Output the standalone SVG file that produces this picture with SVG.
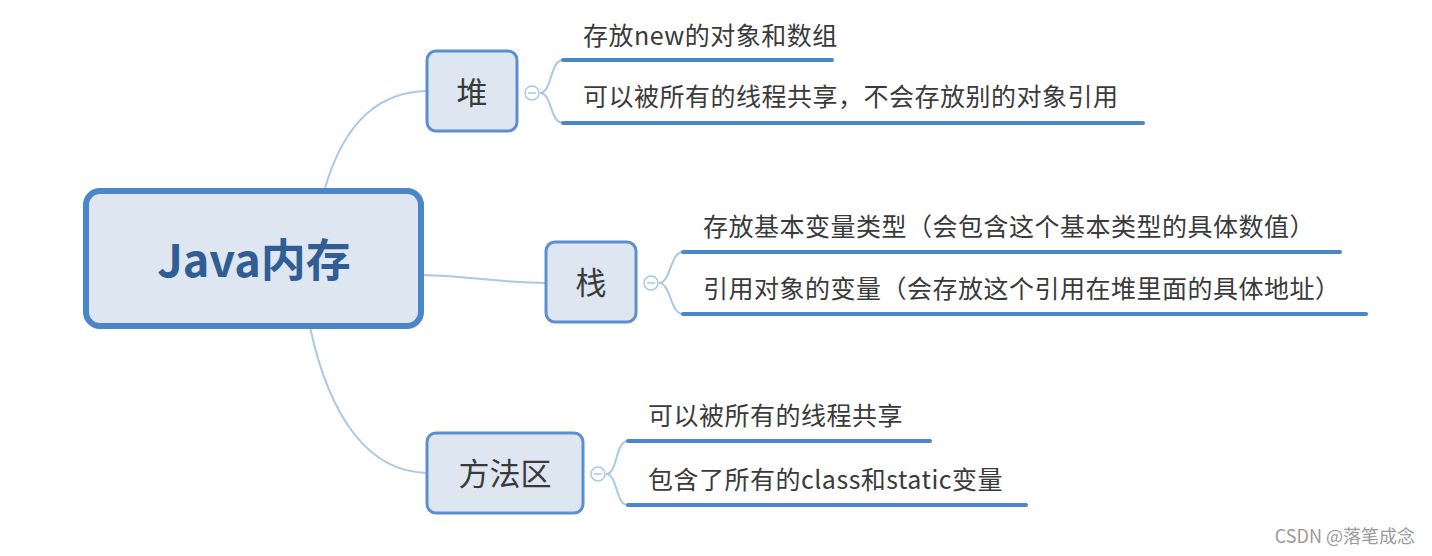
<svg xmlns="http://www.w3.org/2000/svg" width="1432" height="556" viewBox="0 0 1432 556">
<style>
.cn{font-family:"Noto Sans CJK SC","Noto Sans",sans-serif;}
.leaf{font-size:25px;fill:#3a3a3a;letter-spacing:0.5px;}
.sub{fill:#dde6f1;stroke:#5b8fd0;stroke-width:3;}
.subt{font-size:31px;fill:#3a3a3a;text-anchor:middle;}
.conn{fill:none;stroke:#a9c7e6;stroke-width:2;}
.ul{stroke:#4a86c8;stroke-width:4;stroke-linecap:round;}
.br{fill:none;stroke:#a9c7e6;stroke-width:2;}
.col{fill:#fff;stroke:#a9c7e6;stroke-width:1.5;}
</style>
<rect width="1432" height="556" fill="#ffffff"/>
<g id="connectors">
<path class="conn" d="M325,188 C345,120 380,92 427,91"/>
<path class="conn" d="M422,275 C470,276 500,283 546,283"/>
<path class="conn" d="M310,327 C330,420 370,472 427,473"/>
<path class="br" d="M540,93 C552,93 550,60 563,60"/>
<path class="br" d="M540,93 C552,93 550,123 563,123"/>
<path class="br" d="M659,283 C671,283 670,252 683,252"/>
<path class="br" d="M659,283 C671,283 670,314 683,314"/>
<path class="br" d="M606,474 C618,474 615,441 628,441"/>
<path class="br" d="M606,474 C618,474 615,505 628,505"/>
</g>
<g id="root">
<rect x="86" y="191" width="335" height="135" rx="14" fill="#dde6f1" stroke="#4a86c8" stroke-width="6"/>
<text class="cn" x="254" y="277" font-size="45" font-weight="bold" fill="#2f5d94" text-anchor="middle">Java内存</text>
</g>
<g id="heap">
<rect class="sub" x="427" y="51" width="90" height="80" rx="9"/>
<text class="cn subt" x="472" y="104">堆</text>
<circle class="col" cx="532" cy="93" r="7"/>
<line x1="528" y1="93" x2="536" y2="93" stroke="#a9c7e6" stroke-width="1.5"/>
</g>
<g id="heap-1">
<text class="cn leaf" x="583" y="45">存放new的对象和数组</text>
<line class="ul" x1="563" y1="60" x2="832" y2="60"/>
</g>
<g id="heap-2">
<text class="cn leaf" x="583" y="106">可以被所有的线程共享，不会存放别的对象引用</text>
<line class="ul" x1="563" y1="123" x2="1143" y2="123"/>
</g>
<g id="stack">
<rect class="sub" x="546" y="242" width="90" height="80" rx="9"/>
<text class="cn subt" x="591" y="294">栈</text>
<circle class="col" cx="651" cy="283" r="7"/>
<line x1="647" y1="283" x2="655" y2="283" stroke="#a9c7e6" stroke-width="1.5"/>
</g>
<g id="stack-1">
<text class="cn leaf" x="703" y="236">存放基本变量类型（会包含这个基本类型的具体数值）</text>
<line class="ul" x1="683" y1="252" x2="1340" y2="252"/>
</g>
<g id="stack-2">
<text class="cn leaf" x="703" y="298">引用对象的变量（会存放这个引用在堆里面的具体地址）</text>
<line class="ul" x1="683" y1="314" x2="1366" y2="314"/>
</g>
<g id="method">
<rect class="sub" x="427" y="433" width="156" height="80" rx="9"/>
<text class="cn subt" x="505" y="485">方法区</text>
<circle class="col" cx="598" cy="474" r="7"/>
<line x1="594" y1="474" x2="602" y2="474" stroke="#a9c7e6" stroke-width="1.5"/>
</g>
<g id="method-1">
<text class="cn leaf" x="648" y="425">可以被所有的线程共享</text>
<line class="ul" x1="628" y1="441" x2="930" y2="441"/>
</g>
<g id="method-2">
<text class="cn leaf" x="648" y="489">包含了所有的class和static变量</text>
<line class="ul" x1="628" y1="505" x2="1026" y2="505"/>
</g>
<text class="cn" x="1415" y="543" font-size="18" fill="#9a9a9a" text-anchor="end">CSDN @落笔成念</text>
</svg>
